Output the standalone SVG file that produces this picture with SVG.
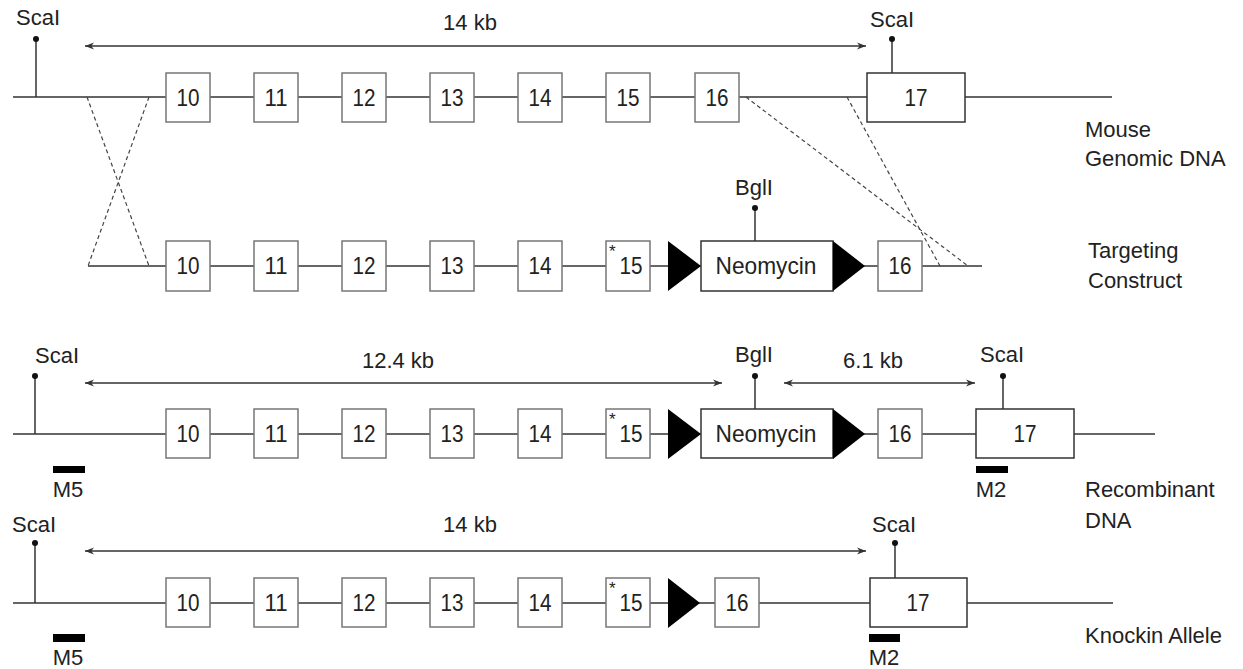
<svg xmlns="http://www.w3.org/2000/svg" width="1243" height="669" viewBox="0 0 1243 669">
<defs>
<marker id="ah" viewBox="0 0 10 10" refX="10" refY="5" markerWidth="10" markerHeight="9" markerUnits="userSpaceOnUse" orient="auto-start-reverse">
<path d="M0,1 L10,5 L0,9 L3,5 Z" fill="#333"/>
</marker>
</defs>
<style>
text{font-family:"Liberation Sans",Arial,sans-serif;fill:#222}
.t{font-size:22px;text-anchor:middle}
.n{font-size:24px;text-anchor:middle}
.ast{font-size:17px}
.lab{font-size:22px}
.ln{stroke:#666;stroke-width:2;fill:none}
.box{fill:#fff;stroke:#777;stroke-width:1.5}
.bx2{fill:#fff;stroke:#333;stroke-width:1.5}
.stem{stroke:#333;stroke-width:1.5}
.dot{fill:#111}
.dash{stroke:#444;stroke-width:1.2;stroke-dasharray:4,3;fill:none}
.arr{stroke:#333;stroke-width:1.5;marker-start:url(#ah);marker-end:url(#ah)}
.tri{fill:#000}
.bar{fill:#000}
</style>
<rect width="1243" height="669" fill="#fff"/>

<g id="connectors">
<line class="ln" x1="13" y1="97" x2="1112" y2="97"/>
<line class="ln" x1="88" y1="266" x2="982" y2="266"/>
<line class="ln" x1="13" y1="434" x2="1155" y2="434"/>
<line class="ln" x1="13" y1="603" x2="1113" y2="603"/>
<line class="dash" x1="87" y1="97" x2="149" y2="266"/>
<line class="dash" x1="149" y1="97" x2="88" y2="266"/>
<line class="dash" x1="746" y1="97" x2="968" y2="266"/>
<line class="dash" x1="847" y1="97" x2="940" y2="266"/>
<line class="arr" x1="85" y1="46" x2="866" y2="46"/>
<line class="arr" x1="85" y1="383" x2="722" y2="383"/>
<line class="arr" x1="784" y1="383" x2="975" y2="383"/>
<line class="arr" x1="85" y1="551" x2="866" y2="551"/>
</g>

<g id="row1">
<g id="r1-scal-left"><line class="stem" x1="36" y1="39" x2="36" y2="97"/><circle class="dot" cx="36" cy="39" r="3"/><text class="t" x="38" y="25">ScaI</text></g>
<text class="t" x="470" y="30">14 kb</text>
<g id="r1-e10"><rect class="box" x="166" y="73" width="44" height="49"/><text class="n" x="188" y="106" textLength="23" lengthAdjust="spacingAndGlyphs">10</text></g>
<g id="r1-e11"><rect class="box" x="254" y="73" width="44" height="49"/><text class="n" x="276" y="106" textLength="23" lengthAdjust="spacingAndGlyphs">11</text></g>
<g id="r1-e12"><rect class="box" x="342" y="73" width="44" height="49"/><text class="n" x="364" y="106" textLength="23" lengthAdjust="spacingAndGlyphs">12</text></g>
<g id="r1-e13"><rect class="box" x="430" y="73" width="44" height="49"/><text class="n" x="452" y="106" textLength="23" lengthAdjust="spacingAndGlyphs">13</text></g>
<g id="r1-e14"><rect class="box" x="518" y="73" width="44" height="49"/><text class="n" x="540" y="106" textLength="23" lengthAdjust="spacingAndGlyphs">14</text></g>
<g id="r1-e15"><rect class="box" x="606" y="73" width="44" height="49"/><text class="n" x="628" y="106" textLength="23" lengthAdjust="spacingAndGlyphs">15</text></g>
<g id="r1-e16"><rect class="box" x="695" y="73" width="44" height="49"/><text class="n" x="717" y="106" textLength="23" lengthAdjust="spacingAndGlyphs">16</text></g>
<g id="r1-e17"><line class="stem" x1="892" y1="39" x2="892" y2="73"/><circle class="dot" cx="892" cy="39" r="3"/><text class="t" x="892" y="27">ScaI</text><rect class="bx2" x="867" y="73" width="98" height="49"/><text class="n" x="916" y="106" textLength="23" lengthAdjust="spacingAndGlyphs">17</text></g>
<text class="lab" x="1085" y="137">Mouse</text>
<text class="lab" x="1085" y="166">Genomic DNA</text>
</g>

<g id="row2">
<g id="r2-e10"><rect class="box" x="166" y="241" width="44" height="50"/><text class="n" x="188" y="274" textLength="23" lengthAdjust="spacingAndGlyphs">10</text></g>
<g id="r2-e11"><rect class="box" x="254" y="241" width="44" height="50"/><text class="n" x="276" y="274" textLength="23" lengthAdjust="spacingAndGlyphs">11</text></g>
<g id="r2-e12"><rect class="box" x="342" y="241" width="44" height="50"/><text class="n" x="364" y="274" textLength="23" lengthAdjust="spacingAndGlyphs">12</text></g>
<g id="r2-e13"><rect class="box" x="430" y="241" width="44" height="50"/><text class="n" x="452" y="274" textLength="23" lengthAdjust="spacingAndGlyphs">13</text></g>
<g id="r2-e14"><rect class="box" x="518" y="241" width="44" height="50"/><text class="n" x="540" y="274" textLength="23" lengthAdjust="spacingAndGlyphs">14</text></g>
<g id="r2-e15"><rect class="box" x="606" y="241" width="44" height="50"/><text class="ast" x="609" y="257">*</text><text class="n" x="631" y="274" textLength="23" lengthAdjust="spacingAndGlyphs">15</text></g>
<g id="r2-neo"><polygon class="tri" points="668,241 701,266 668,291"/><line class="stem" x1="755" y1="208" x2="755" y2="241"/><circle class="dot" cx="755" cy="208" r="3"/><text class="t" x="754" y="195">BglI</text><rect class="bx2" x="701" y="241" width="132" height="50"/><text class="n" x="766" y="274" textLength="101" lengthAdjust="spacingAndGlyphs">Neomycin</text><polygon class="tri" points="833,241 865,266 833,291"/></g>
<g id="r2-e16"><rect class="box" x="878" y="241" width="44" height="50"/><text class="n" x="900" y="274" textLength="23" lengthAdjust="spacingAndGlyphs">16</text></g>
<text class="lab" x="1088" y="258">Targeting</text>
<text class="lab" x="1088" y="288">Construct</text>
</g>

<g id="row3">
<g id="r3-scal-left"><line class="stem" x1="35" y1="376" x2="35" y2="434"/><circle class="dot" cx="35" cy="376" r="3"/><text class="t" x="57" y="363">ScaI</text></g>
<text class="t" x="398" y="368">12.4 kb</text>
<text class="t" x="873" y="368">6.1 kb</text>
<g id="r3-e10"><rect class="box" x="166" y="409" width="44" height="49"/><text class="n" x="188" y="442" textLength="23" lengthAdjust="spacingAndGlyphs">10</text></g>
<g id="r3-e11"><rect class="box" x="254" y="409" width="44" height="49"/><text class="n" x="276" y="442" textLength="23" lengthAdjust="spacingAndGlyphs">11</text></g>
<g id="r3-e12"><rect class="box" x="342" y="409" width="44" height="49"/><text class="n" x="364" y="442" textLength="23" lengthAdjust="spacingAndGlyphs">12</text></g>
<g id="r3-e13"><rect class="box" x="430" y="409" width="44" height="49"/><text class="n" x="452" y="442" textLength="23" lengthAdjust="spacingAndGlyphs">13</text></g>
<g id="r3-e14"><rect class="box" x="518" y="409" width="44" height="49"/><text class="n" x="540" y="442" textLength="23" lengthAdjust="spacingAndGlyphs">14</text></g>
<g id="r3-e15"><rect class="box" x="606" y="409" width="44" height="49"/><text class="ast" x="609" y="425">*</text><text class="n" x="631" y="442" textLength="23" lengthAdjust="spacingAndGlyphs">15</text></g>
<g id="r3-neo"><polygon class="tri" points="668,409 701,434 668,459"/><line class="stem" x1="755" y1="376" x2="755" y2="409"/><circle class="dot" cx="755" cy="376" r="3"/><text class="t" x="754" y="362">BglI</text><rect class="bx2" x="701" y="409" width="132" height="49"/><text class="n" x="766" y="442" textLength="101" lengthAdjust="spacingAndGlyphs">Neomycin</text><polygon class="tri" points="833,409 865,434 833,459"/></g>
<g id="r3-e16"><rect class="box" x="878" y="409" width="44" height="49"/><text class="n" x="900" y="442" textLength="23" lengthAdjust="spacingAndGlyphs">16</text></g>
<g id="r3-e17"><line class="stem" x1="1003" y1="376" x2="1003" y2="409"/><circle class="dot" cx="1003" cy="376" r="3"/><text class="t" x="1002" y="362">ScaI</text><rect class="bx2" x="976" y="409" width="98" height="49"/><text class="n" x="1025" y="442" textLength="23" lengthAdjust="spacingAndGlyphs">17</text></g>
<g id="r3-m5"><rect class="bar" x="53" y="466" width="32" height="7"/><text class="t" x="68" y="497">M5</text></g>
<g id="r3-m2"><rect class="bar" x="976" y="466" width="32" height="7"/><text class="t" x="991" y="497">M2</text></g>
<text class="lab" x="1085" y="497">Recombinant</text>
<text class="lab" x="1085" y="528">DNA</text>
</g>

<g id="row4">
<g id="r4-scal-left"><line class="stem" x1="35" y1="543" x2="35" y2="603"/><circle class="dot" cx="35" cy="543" r="3"/><text class="t" x="34" y="532">ScaI</text></g>
<text class="t" x="470" y="532">14 kb</text>
<g id="r4-e10"><rect class="box" x="166" y="578" width="44" height="49"/><text class="n" x="188" y="611" textLength="23" lengthAdjust="spacingAndGlyphs">10</text></g>
<g id="r4-e11"><rect class="box" x="254" y="578" width="44" height="49"/><text class="n" x="276" y="611" textLength="23" lengthAdjust="spacingAndGlyphs">11</text></g>
<g id="r4-e12"><rect class="box" x="342" y="578" width="44" height="49"/><text class="n" x="364" y="611" textLength="23" lengthAdjust="spacingAndGlyphs">12</text></g>
<g id="r4-e13"><rect class="box" x="430" y="578" width="44" height="49"/><text class="n" x="452" y="611" textLength="23" lengthAdjust="spacingAndGlyphs">13</text></g>
<g id="r4-e14"><rect class="box" x="518" y="578" width="44" height="49"/><text class="n" x="540" y="611" textLength="23" lengthAdjust="spacingAndGlyphs">14</text></g>
<g id="r4-e15"><rect class="box" x="606" y="578" width="44" height="49"/><text class="ast" x="609" y="594">*</text><text class="n" x="631" y="611" textLength="23" lengthAdjust="spacingAndGlyphs">15</text></g>
<g id="r4-loxp"><polygon class="tri" points="668,578 700,603 668,628"/></g>
<g id="r4-e16"><rect class="box" x="715" y="578" width="44" height="49"/><text class="n" x="737" y="611" textLength="23" lengthAdjust="spacingAndGlyphs">16</text></g>
<g id="r4-e17"><line class="stem" x1="895" y1="543" x2="895" y2="578"/><circle class="dot" cx="895" cy="543" r="3"/><text class="t" x="894" y="532">ScaI</text><rect class="bx2" x="870" y="578" width="97" height="49"/><text class="n" x="918" y="611" textLength="23" lengthAdjust="spacingAndGlyphs">17</text></g>
<g id="r4-m5"><rect class="bar" x="53" y="634" width="32" height="8"/><text class="t" x="68" y="665">M5</text></g>
<g id="r4-m2"><rect class="bar" x="869" y="634" width="31" height="8"/><text class="t" x="884" y="665">M2</text></g>
<text class="lab" x="1085" y="643">Knockin Allele</text>
</g>
</svg>
